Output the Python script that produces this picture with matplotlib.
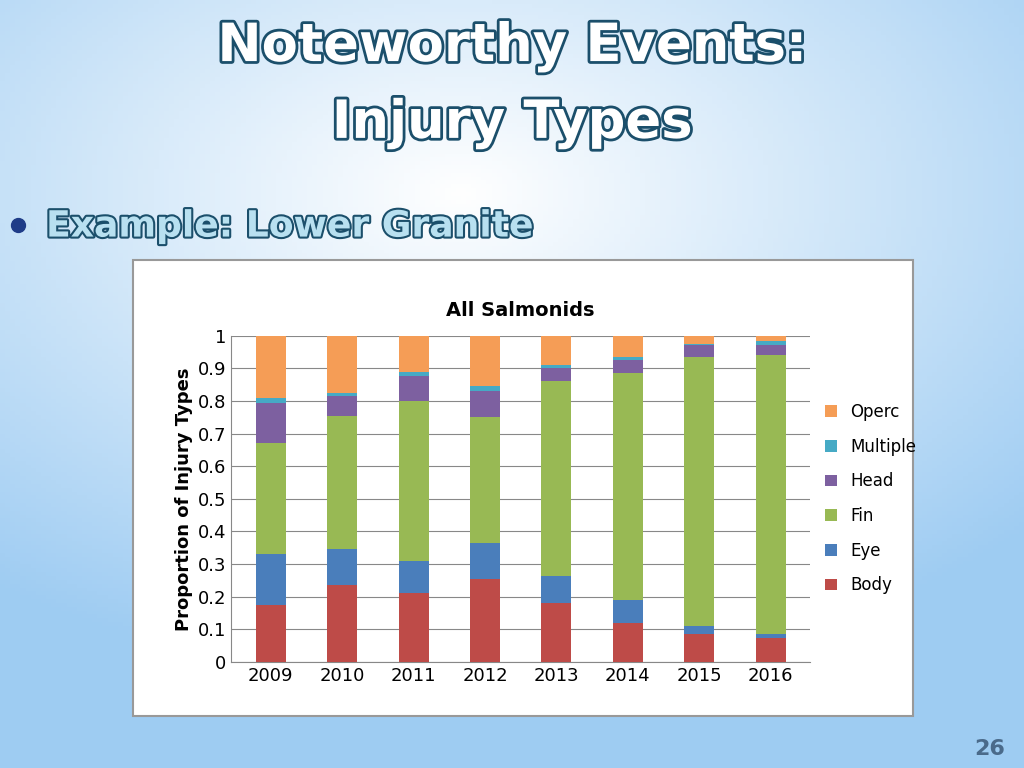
import matplotlib
matplotlib.use("Agg")
import matplotlib.pyplot as plt
import matplotlib.patheffects as pe
import numpy as np
from matplotlib.patches import Rectangle

years = ["2009","2010","2011","2012","2013","2014","2015","2016"]
cum_body = [0.175,0.235,0.21,0.255,0.18,0.12,0.085,0.075]
cum_eye = [0.33,0.345,0.31,0.365,0.265,0.19,0.11,0.085]
cum_fin = [0.67,0.755,0.80,0.75,0.86,0.885,0.935,0.94]
cum_head = [0.795,0.815,0.875,0.83,0.90,0.925,0.97,0.97]
cum_mult = [0.81,0.825,0.89,0.845,0.91,0.935,0.975,0.985]
series = ["Body","Eye","Fin","Head","Multiple","Operc"]
colors = ["#BE4B48","#4A7EBB","#98B954","#7D60A0","#46AAC5","#F59D56"]

cums = [np.zeros(8), np.array(cum_body), np.array(cum_eye), np.array(cum_fin),
        np.array(cum_head), np.array(cum_mult), np.ones(8)]

fig = plt.figure(figsize=(10.24,7.68), dpi=100)
bg = fig.add_axes([0,0,1,1]); bg.axis("off")
yy, xx = np.mgrid[0:1:200j, 0:1:200j]
d = np.sqrt((xx-0.45)**2 + ((yy-0.75)*1.2)**2)
img = np.clip(d*1.3,0,1)
c0 = np.array([1,1,1]); c1 = np.array([0.62,0.80,0.95])
rgb = c0[None,None,:]*(1-img[...,None]) + c1[None,None,:]*img[...,None]
bg.imshow(rgb, extent=[0,1,0,1], origin="lower", aspect="auto")
bg.set_xlim(0,1); bg.set_ylim(0,1)
stroke = [pe.withStroke(linewidth=4, foreground="#1b4f6b")]
for txt, yv in [("Noteworthy Events:",0.94),("Injury Types",0.84)]:
    bg.text(0.5,yv,txt,ha="center",va="center",fontsize=38,fontweight="bold",
            color="white",path_effects=stroke)
bg.text(0.045,0.705,"Example: Lower Granite",ha="left",va="center",fontsize=26,fontweight="bold",
        color="#b8e0f0",path_effects=[pe.withStroke(linewidth=3, foreground="#1b4f6b")])
bg.plot([0.018],[0.707],"o",color="#1f3c88",ms=10)
bg.text(0.982,0.025,"26",ha="right",va="center",fontsize=16,color="#4a6a8a",fontweight="bold")
bg.add_patch(Rectangle((0.130,0.068),0.762,0.593,facecolor="white",edgecolor="#999999",lw=1.5))

ax = fig.add_axes([0.226,0.138,0.565,0.425])
x = np.arange(8)
for i in range(6):
    ax.bar(x, cums[i+1]-cums[i], bottom=cums[i], width=0.42, color=colors[i], label=series[i], zorder=3)
ax.set_ylim(0,1); ax.set_xlim(-0.55,7.55)
ax.set_yticks(np.arange(0,1.01,0.1))
ax.set_yticklabels(["0","0.1","0.2","0.3","0.4","0.5","0.6","0.7","0.8","0.9","1"], fontsize=13)
ax.set_xticks(x); ax.set_xticklabels(years, fontsize=13)
ax.grid(axis="y", color="#888888", lw=0.8, zorder=0)
for s in ["top","right"]: ax.spines[s].set_visible(False)
ax.spines["left"].set_color("#888888"); ax.spines["bottom"].set_color("#888888")
ax.tick_params(length=0)
ax.set_ylabel("Proportion of Injury Types", fontsize=13, fontweight="bold")
ax.set_title("All Salmonids", fontsize=14, fontweight="bold", pad=14)
h, l = ax.get_legend_handles_labels()
ax.legend(h[::-1], l[::-1], loc="center left", bbox_to_anchor=(1.0,0.5), frameon=False, fontsize=12, labelspacing=1.0, handlelength=0.7, handleheight=0.7)
fig.savefig("out.png", dpi=100)
